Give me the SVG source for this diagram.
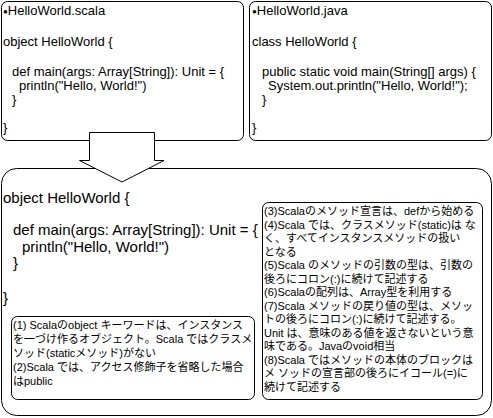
<svg xmlns="http://www.w3.org/2000/svg" width="493" height="418" viewBox="0 0 493 418">
<style>
.box{fill:#fff;stroke:#000;stroke-width:1}
.code{font-family:"Liberation Sans",Arial,sans-serif;fill:#000}
.c13{font-size:13px}
.c15{font-size:15px}
.bul{font-size:8px;font-family:"Liberation Sans","DejaVu Sans",sans-serif}
.note{font-family:"Liberation Sans","Noto Sans CJK JP",sans-serif;font-size:11px;fill:#000}
</style>
<rect width="493" height="418" fill="#fff"/>
<g id="scala-file">
<rect class="box" x="1.5" y="1.5" width="242" height="139" rx="6"/>
<text class="code c13" x="3" y="15"><tspan class="bul" dy="-1">●</tspan><tspan dy="1">HelloWorld.scala</tspan></text>
<text class="code c13" x="3" y="46">object HelloWorld {</text>
<text class="code c13" x="12" y="76">def main(args: Array[String]): Unit = {</text>
<text class="code c13" x="19" y="90">println("Hello, World!")</text>
<text class="code c13" x="12" y="104">}</text>
<text class="code c13" x="3" y="132">}</text>
</g>
<g id="java-file">
<rect class="box" x="249.5" y="1.5" width="242" height="139" rx="6"/>
<text class="code c13" x="252" y="15"><tspan class="bul" dy="-1">●</tspan><tspan dy="1">HelloWorld.java</tspan></text>
<text class="code c13" x="252" y="46">class HelloWorld {</text>
<text class="code c13" x="262" y="76">public static void main(String[] args) {</text>
<text class="code c13" x="268" y="90">System.out.println("Hello, World!");</text>
<text class="code c13" x="262" y="104">}</text>
<text class="code c13" x="252" y="132">}</text>
</g>
<g id="explained">
<rect class="box" x="1.5" y="168.5" width="490" height="247" rx="15"/>
<text class="code c15" x="3" y="203">object HelloWorld {</text>
<text class="code c15" x="13" y="235">def main(args: Array[String]): Unit = {</text>
<text class="code c15" x="22" y="252">println("Hello, World!")</text>
<text class="code c15" x="13" y="268">}</text>
<text class="code c15" x="3" y="303">}</text>
</g>
<g id="note-1-2">
<rect class="box" x="11.5" y="316.5" width="243" height="83" rx="6"/>
<text class="note" x="13" y="329">(1) Scalaのobject キーワードは、インスタンス</text>
<text class="note" x="13" y="343">を一づけ作るオブジェクト。Scala ではクラスメ</text>
<text class="note" x="13" y="357">ソッド(staticメソッド)がない</text>
<text class="note" x="13" y="371">(2)Scala では、アクセス修飾子を省略した場合</text>
<text class="note" x="13" y="385">はpublic</text>
</g>
<g id="note-3-8">
<rect class="box" x="262.5" y="202.5" width="220" height="197" rx="6"/>
<text class="note" x="264" y="215">(3)Scalaのメソッド宣言は、defから始める</text>
<text class="note" x="264" y="228.5">(4)Scala では、クラスメソッド(static)は な</text>
<text class="note" x="264" y="242">く、すべてインスタンスメソッドの扱い</text>
<text class="note" x="264" y="255.5">となる</text>
<text class="note" x="264" y="269">(5)Scala のメソッドの引数の型は、引数の</text>
<text class="note" x="264" y="282.5">後ろにコロン(:)に続けて記述する</text>
<text class="note" x="264" y="296">(6)Scalaの配列は、Array型を利用する</text>
<text class="note" x="264" y="309.5">(7)Scala メソッドの戻り値の型は、メソッ</text>
<text class="note" x="264" y="323">トの後ろにコロン(:)に続けて記述する。</text>
<text class="note" x="264" y="336.5">Unit は、意味のある値を返さないという意</text>
<text class="note" x="264" y="350">味である。Javaのvoid相当</text>
<text class="note" x="264" y="363.5">(8)Scala ではメソッドの本体のブロックは</text>
<text class="note" x="264" y="377">メ ソッドの宣言部の後ろにイコール(=)に</text>
<text class="note" x="264" y="390.5">続けて記述する</text>
</g>
<g id="connectors">
<polygon class="box" points="89.5,132.5 154.5,132.5 154.5,160.5 164,160.5 122,182 79.5,160.5 89.5,160.5"/>
</g>
</svg>
